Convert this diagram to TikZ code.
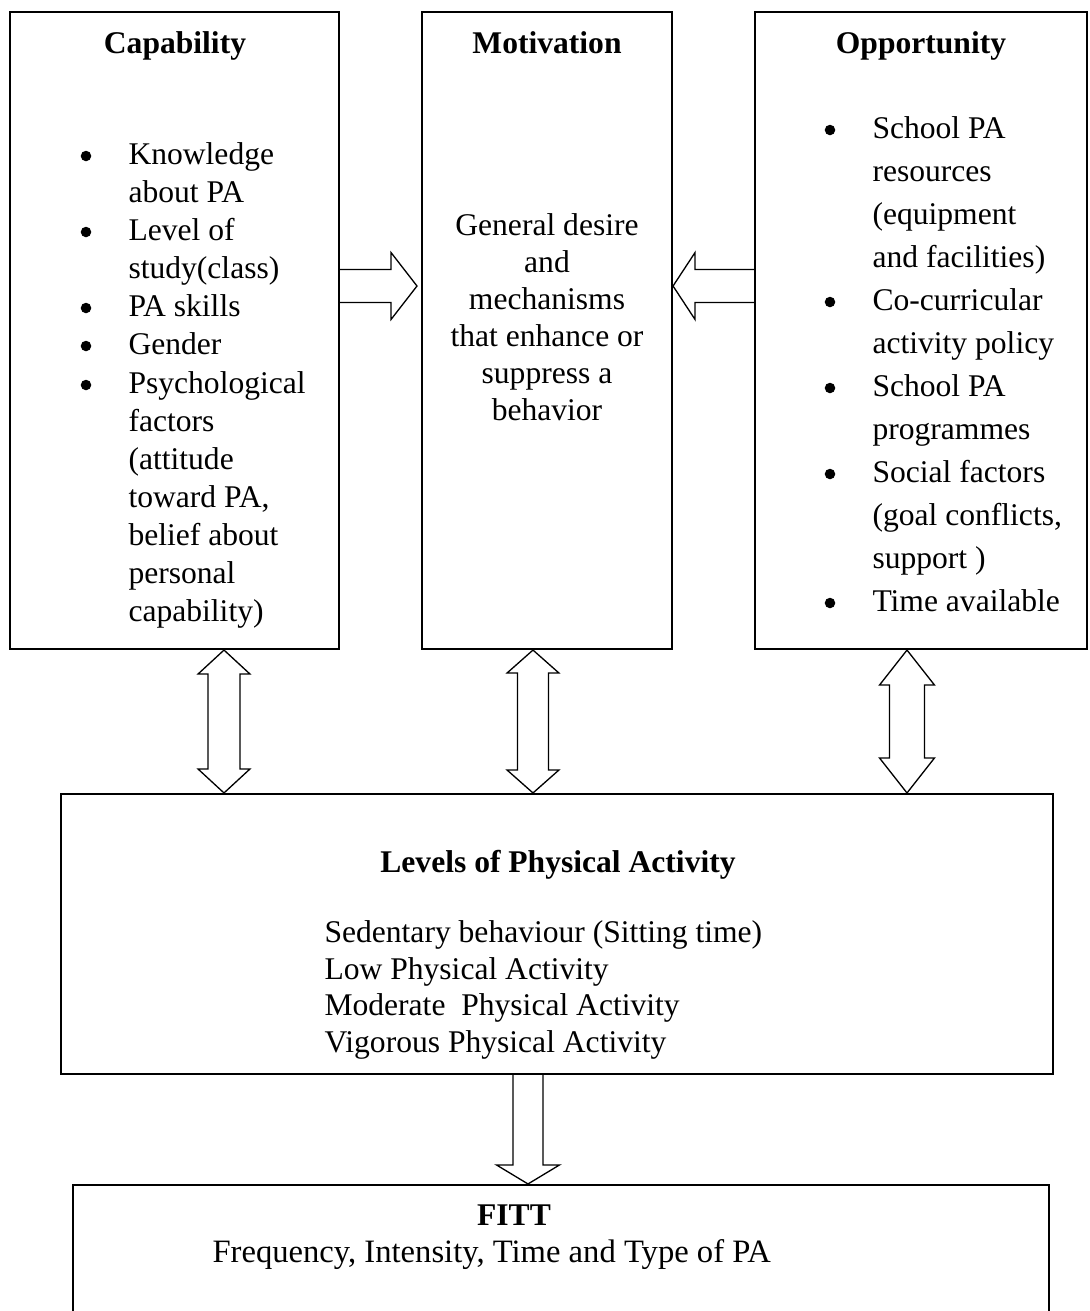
\documentclass[tikz,border=0pt]{standalone}
\usepackage{fontspec}
\setmainfont{Liberation Serif}
\usetikzlibrary{calc,fit}

% block arrows (outlined), sizes in picture units
% tail, tip, shaft half width, head half width, head length (signed)
\newcommand{\hblockarrow}[5]{%
  \draw[blockarrow] ($(#1)+(0,-#3)$) -- ($(#2)+({-(#5)},-#3)$) -- ($(#2)+({-(#5)},-#4)$) -- (#2)
    -- ($(#2)+({-(#5)},#4)$) -- ($(#2)+({-(#5)},#3)$) -- ($(#1)+(0,#3)$);}
\newcommand{\vblockarrow}[5]{%
  \draw[blockarrow] ($(#1)+(-#3,0)$) -- ($(#2)+(-#3,-#5)$) -- ($(#2)+(-#4,-#5)$) -- (#2)
    -- ($(#2)+(#4,-#5)$) -- ($(#2)+(#3,-#5)$) -- ($(#1)+(#3,0)$);}
% x, upper node, lower node, shaft half width, head half width, head length
\newcommand{\vdblockarrow}[6]{%
  \coordinate (vtop) at (#1,0 |- #2.south);
  \coordinate (vbot) at (#1,0 |- #3.north);
  \draw[blockarrow] (vtop) -- ($(vtop)+(#5,#6)$) -- ($(vtop)+(#4,#6)$) -- ($(vbot)+(#4,-#6)$)
    -- ($(vbot)+(#5,-#6)$) -- (vbot) -- ($(vbot)+(-#5,-#6)$) -- ($(vbot)+(-#4,-#6)$)
    -- ($(vtop)+(-#4,#6)$) -- ($(vtop)+(-#5,#6)$) -- cycle;}

\tikzset{
  box/.style={draw, line width=0.8pt, inner sep=0pt},
  blockarrow/.style={draw, line width=0.5pt, line join=miter},
  title/.style={anchor=base, inner sep=0pt, font=\fontsize{12}{14}\selectfont\bfseries},
  dot/.style={circle, fill, inner sep=0pt, minimum size=4pt},
  item/.style={anchor=base west, align=left, inner sep=0pt},
}

\begin{document}
\begin{tikzpicture}[x=0.38pt, y=-0.38pt, font=\fontsize{12}{14.44}\selectfont]
  \useasboundingbox (0,0) rectangle (1090,1311);
  \clip (0,0) rectangle (1090,1311);

  % Boxes
  \node[box, fit={(10,12) (339,649)}] (cap) {};
  \node[box, fit={(422,12) (672,649)}] (mot) {};
  \node[box, fit={(755,12) (1087,649)}] (opp) {};
  \node[box, fit={(61,794) (1053,1074)}] (lev) {};
  \node[box, fit={(73,1185) (1049,1340)}] (fitt) {};

  % Capability (node base = baseline of the last line)
  \node[title] (captitle) at (175,53) {Capability};
  \node[dot] (c1d) at (86,156) {};
  \node[item] (c1) at (128,202) {Knowledge\\about PA};
  \node[dot] (c2d) at (86,232) {};
  \node[item] (c2) at (128,278) {Level of\\study(class)};
  \node[dot] (c3d) at (86,308) {};
  \node[item] (c3) at (128,316) {PA skills};
  \node[dot] (c4d) at (86,346) {};
  \node[item] (c4) at (128,354) {Gender};
  \node[dot] (c5d) at (86,385) {};
  \node[item] (c5) at (128,621) {Psychological\\factors\\(attitude\\toward PA,\\belief about\\personal\\capability)};

  % Motivation
  \node[title] (mottitle) at (547,53) {Motivation};
  \node[anchor=base, align=center, inner sep=0pt, font=\fontsize{12}{14.06}\selectfont] (mottext) at (547,420)
    {General desire\\and\\mechanisms\\that enhance or\\suppress a\\behavior};

  % Opportunity
  \node[title] (opptitle) at (921,53) {Opportunity};
  \begin{scope}[font=\fontsize{12}{16.34}\selectfont]
    \node[dot] (o1d) at (830,130) {};
    \node[item] (o1) at (872,267) {School PA\\resources\\(equipment\\and facilities)};
    \node[dot] (o2d) at (830,302) {};
    \node[item] (o2) at (872,353) {Co-curricular\\activity policy};
    \node[dot] (o3d) at (830,388) {};
    \node[item] (o3) at (872,439) {School PA\\programmes};
    \node[dot] (o4d) at (830,474) {};
    \node[item] (o4) at (872,568) {Social factors\\(goal conflicts,\\support )};
    \node[dot] (o5d) at (830,603) {};
    \node[item] (o5) at (872,611) {Time available};
  \end{scope}

  % Levels of physical activity
  \node[title] (levtitle) at (558,872) {Levels of Physical Activity};
  \node[item, font=\fontsize{12}{13.83}\selectfont] (levtext) at (324,1052)
    {Sedentary behaviour (Sitting time)\\Low Physical Activity\\Moderate~ Physical Activity\\Vigorous Physical Activity};

  % FITT
  \node[title] (fitttitle) at (514,1225) {FITT};
  \node[item, font=\fontsize{12.4}{14.4}\selectfont] (fitttext) at (212,1262) {Frequency, Intensity, Time and Type of PA};

  % Arrows
  \coordinate (hy) at (0,286);
  \coordinate (a1s) at (cap.east |- hy);
  \coordinate (a1e) at (417,286);
  \coordinate (a2s) at (opp.west |- hy);
  \coordinate (a2e) at (mot.east |- hy);
  \hblockarrow{a1s}{a1e}{16.5}{33.5}{26}
  \hblockarrow{a2s}{a2e}{16.5}{33.5}{-22}

  \vdblockarrow{224}{cap}{lev}{16}{26}{24}
  \vdblockarrow{533}{mot}{lev}{15.5}{26}{23}
  \vdblockarrow{907}{opp}{lev}{17.5}{27.5}{35}

  \coordinate (dx) at (528,0);
  \coordinate (a3s) at (dx |- lev.south);
  \coordinate (a3e) at (dx |- fitt.north);
  \vblockarrow{a3s}{a3e}{15}{31.5}{19}
\end{tikzpicture}
\end{document}
